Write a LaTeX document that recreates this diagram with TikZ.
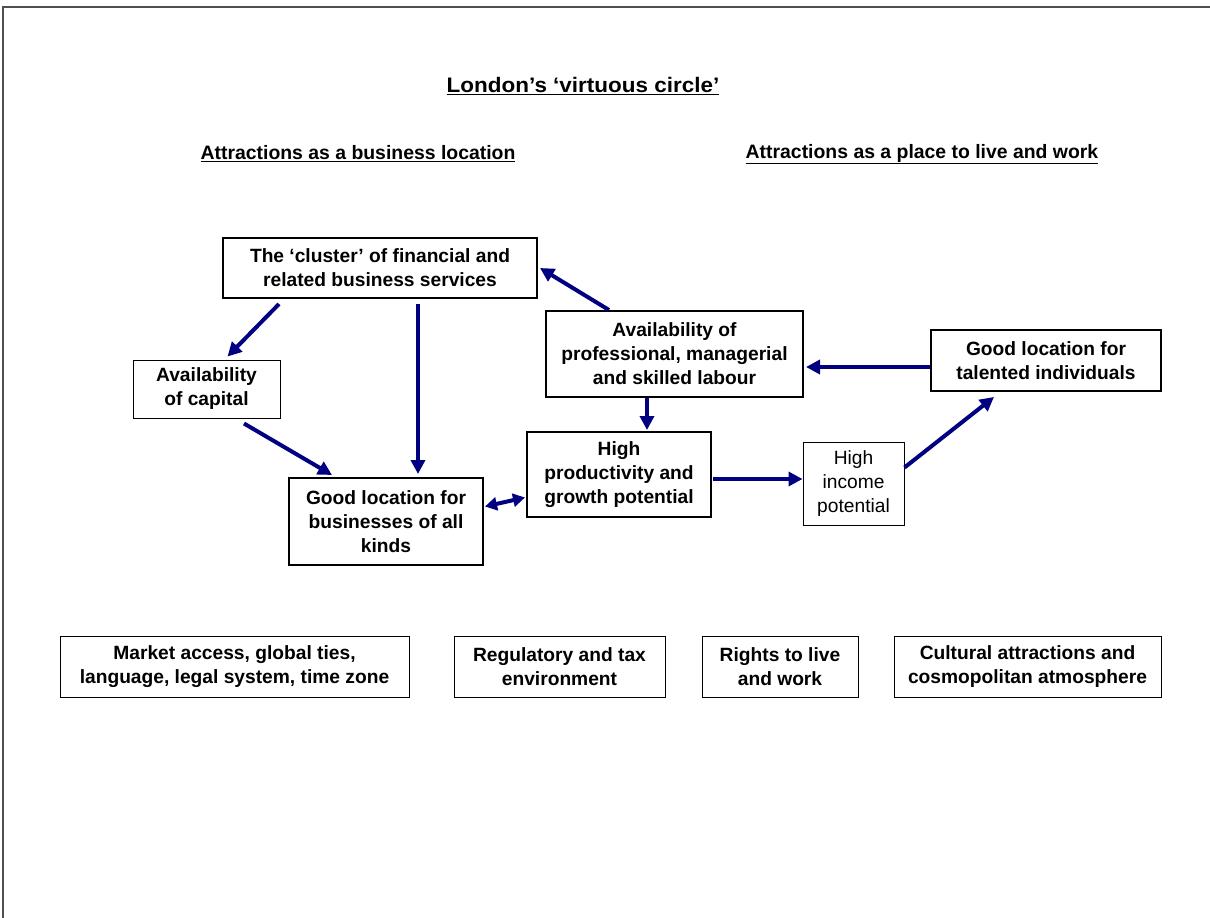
\documentclass[tikz,border=0pt]{standalone}
\usepackage{fontspec}
\setmainfont{Liberation Sans}
\newfontfamily\widefont[FakeStretch=1.07]{Liberation Sans}
\usetikzlibrary{arrows.meta,calc}
\definecolor{arrowblue}{RGB}{0,0,128}
\definecolor{framegray}{RGB}{80,80,80}
\begin{document}
\begin{tikzpicture}[x=1pt,y=-1pt,
  boxthick/.style={draw=black,line width=2pt,align=center,inner sep=0pt,font=\fontsize{19.2}{24}\selectfont\bfseries},
  boxthin/.style={draw=black,line width=1pt,align=center,inner sep=0pt,font=\fontsize{19.2}{24}\selectfont\bfseries},
  boxplain/.style={draw=black,line width=1pt,align=center,inner sep=0pt,font=\fontsize{19.2}{24}\selectfont},
  heading/.style={inner sep=0pt,font=\fontsize{19.4}{22}\selectfont\bfseries},
  titlestyle/.style={inner sep=0pt,font=\widefont\fontsize{21}{24}\selectfont\bfseries},
  link/.style={draw=arrowblue,line width=4pt,-{Triangle[length=14pt,width=14pt]}},
  dlink/.style={draw=arrowblue,line width=4pt,{Triangle[length=12pt,width=13pt]}-{Triangle[length=12pt,width=13pt]}}]
\useasboundingbox (0,0) rectangle (1210,918);
\draw[framegray,line width=2pt] (3,918) -- (3,7) -- (1210,7);

\node[titlestyle] (title) at (583,86) {\underline{London’s ‘virtuous circle’}};
\node[heading] (hleft) at (358,154) {\underline{Attractions as a business location}};
\node[heading] (hright) at (922,154) {\underline{Attractions as a place to live and work}};

\node[boxthick,minimum width=314pt,minimum height=60pt] (cluster) at (380,268) {The ‘cluster’ of financial and\\related business services};
\node[boxthin,minimum width=147pt,minimum height=58pt] (cap) at (206.5,389) {Availability\\of capital};
\node[boxthick,minimum width=194pt,minimum height=87pt] (goodbiz) at (386,521.5) {Good location for\\businesses of all\\kinds};
\node[boxthick,minimum width=257pt,minimum height=86pt] (prof) at (674.5,354) {Availability of\\professional, managerial\\and skilled labour};
\node[boxthick,minimum width=184pt,minimum height=85pt] (prod) at (619,474.5) {High\\productivity and\\growth potential};
\node[boxplain,minimum width=101pt,minimum height=83pt] (income) at (853.5,483.5) {High\\income\\potential};
\node[boxthick,minimum width=230pt,minimum height=61pt] (talent) at (1046,360.5) {Good location for\\talented individuals};

\node[boxthin,minimum width=349pt,minimum height=61pt] (market) at (234.5,666.5) {Market access, global ties,\\language, legal system, time zone};
\node[boxthin,minimum width=211pt,minimum height=61pt] (reg) at (559.5,666.5) {Regulatory and tax\\environment};
\node[boxthin,minimum width=156pt,minimum height=61pt] (rights) at (780,666.5) {Rights to live\\and work};
\node[boxthin,minimum width=267pt,minimum height=61pt] (cultural) at (1027.5,666.5) {Cultural attractions and\\cosmopolitan atmosphere};

\draw[link] ($(cluster.south west)+(57,5)$) -- ($(cap.north)+(21,-3)$);
\draw[link] ($(cluster.south)+(38,5)$) -- ($(goodbiz.north)+(32,-3)$);
\draw[link] ($(cap.south)+(37.5,5)$) -- ($(goodbiz.north west)+(44,-2)$);
\draw[link] ($(prof.north west)+(64,0)$) -- ($(cluster.east)+(2,0)$);
\draw[link] ($(prof.south)+(-27.5,0)$) -- ($(prod.north)+(28,-1)$);
\draw[dlink] ($(goodbiz.east)+(1,-15)$) -- ($(prod.west)+(-1,23)$);
\draw[link] ($(prod.east)+(1,4.5)$) -- ($(income.west)+(0,-4.5)$);
\draw[link] ($(income.north east)+(0,26)$) -- ($(talent.south west)+(64,5)$);
\draw[link] ($(talent.west)+(0,6.5)$) -- ($(prof.east)+(2,13)$);
\end{tikzpicture}
\end{document}
